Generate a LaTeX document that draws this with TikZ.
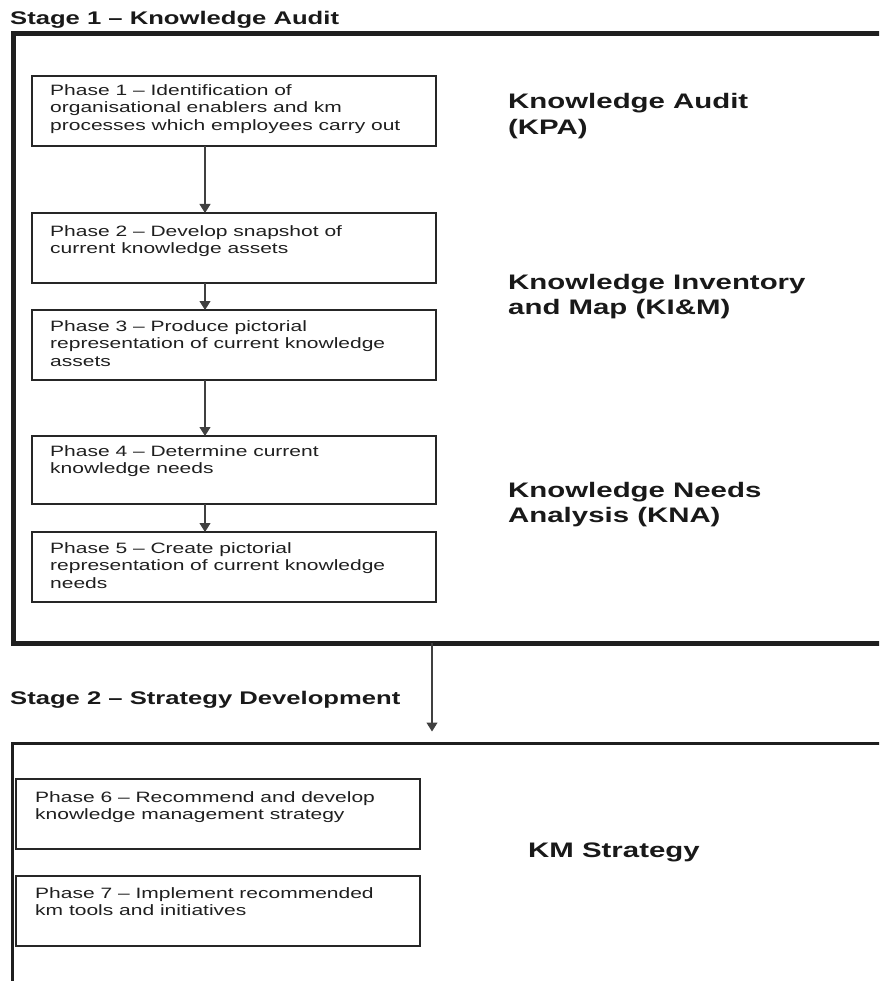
\documentclass[tikz,border=0pt]{standalone}
\usepackage{fontspec}
\newfontfamily\diagfont[FakeStretch=1.4]{Liberation Sans}
\usetikzlibrary{arrows.meta}

\begin{document}
\begin{tikzpicture}[x=1pt,y=-1pt,
  stageframe/.style={draw=black!88, inner sep=0pt, outer sep=0pt, anchor=north west},
  phasebox/.style={draw=black!85, line width=2pt, minimum width=404pt,
    minimum height=70pt, inner sep=0pt, outer sep=0pt, anchor=north west},
  phasetext/.style={font=\diagfont\fontsize{15}{17.5}\selectfont, text=black!88,
    align=left, inner sep=0pt, anchor=north west},
  stagelabel/.style={font=\diagfont\bfseries\fontsize{18.3}{21}\selectfont,
    text=black!90, inner sep=0pt, anchor=base west},
  arealabel/.style={font=\diagfont\bfseries\fontsize{21}{25.5}\selectfont,
    text=black!90, align=left, inner sep=0pt, anchor=north west},
  conn/.style={draw=black!75, line width=1.1pt, -{Triangle[width=11pt,length=9pt]}},
]
\useasboundingbox (0,0) rectangle (879,981);
\clip (0,0) rectangle (879,981);

% stage frames (running off the right and bottom edges)
\node[stageframe, line width=5pt, minimum width=877pt, minimum height=609pt] (s1) at (13,34) {};
\node[stageframe, line width=3pt, minimum width=878pt, minimum height=300pt] (s2) at (12,743.5) {};

% stage titles
\node[stagelabel] (t1) at (10,25) {Stage 1 – Knowledge Audit};
\node[stagelabel] (t2) at (10,704) {Stage 2 – Strategy Development};

% phase boxes
\node[phasebox] (p1) at (32,76) {};
\node[phasebox] (p2) at (32,213) {};
\node[phasebox] (p3) at (32,310) {};
\node[phasebox, minimum height=68pt] (p4) at (32,436) {};
\node[phasebox] (p5) at (32,532) {};
\node[phasebox] (p6) at (16,779) {};
\node[phasebox] (p7) at (16,876) {};

% phase texts
\node[phasetext] (p1t) at (50,84) {Phase 1 – Identification of\\organisational enablers and km\\processes which employees carry out};
\node[phasetext] (p2t) at (50,225) {Phase 2 – Develop snapshot of\\current knowledge assets};
\node[phasetext] (p3t) at (50,320) {Phase 3 – Produce pictorial\\representation of current knowledge\\assets};
\node[phasetext] (p4t) at (50,445) {Phase 4 – Determine current\\knowledge needs};
\node[phasetext] (p5t) at (50,542) {Phase 5 – Create pictorial\\representation of current knowledge\\needs};
\node[phasetext] (p6t) at (35,791) {Phase 6 – Recommend and develop\\knowledge management strategy};
\node[phasetext] (p7t) at (35,887) {Phase 7 – Implement recommended\\km tools and initiatives};

% area labels
\node[arealabel] (kpa) at (508,93.5) {Knowledge Audit\\(KPA)};
\node[arealabel] (kim) at (508,274) {Knowledge Inventory\\and Map (KI\&M)};
\node[arealabel] (kna) at (508,482) {Knowledge Needs\\Analysis (KNA)};
\node[arealabel] (kms) at (528,843) {KM Strategy};

% connectors
\coordinate (ax) at (205,0);
\coordinate (sx) at (432,0);
\draw[conn] (p1.south -| ax) -- (p2.north -| ax);
\draw[conn] (p2.south -| ax) -- (p3.north -| ax);
\draw[conn] (p3.south -| ax) -- (p4.north -| ax);
\draw[conn] (p4.south -| ax) -- (p5.north -| ax);
\draw[conn, shorten >=12pt] (s1.south -| sx) -- (s2.north -| sx);
\end{tikzpicture}
\end{document}
